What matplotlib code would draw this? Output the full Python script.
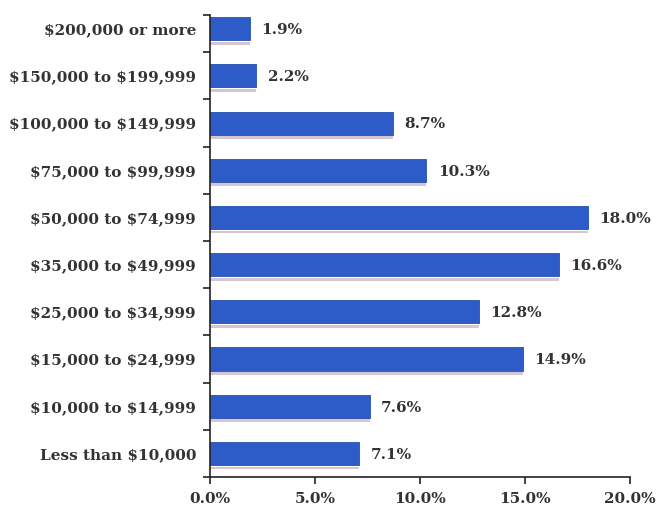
import matplotlib.pyplot as plt
from matplotlib.ticker import FixedLocator

# income brackets, bottom to top
categories = ['Less than $10,000', '$10,000 to $14,999', '$15,000 to $24,999',
              '$25,000 to $34,999', '$35,000 to $49,999', '$50,000 to $74,999',
              '$75,000 to $99,999', '$100,000 to $149,999', '$150,000 to $199,999',
              '$200,000 or more']
percent = [7.1, 7.6, 14.9, 12.8, 16.6, 18.0, 10.3, 8.7, 2.2, 1.9]
xticks = [0, 5, 10, 15, 20]

plt.rcParams['font.family'] = ['DejaVu Serif']
plt.rcParams['font.weight'] = 'bold'

fig = plt.figure(figsize=(6.59, 5.13), dpi=100)
ax = fig.add_axes([210 / 659, 1 - 477 / 513, 420 / 659, 462 / 513])

y = list(range(len(categories)))
# faint shadow line under each bar
ax.barh([v - 0.31 for v in y], percent, height=0.06, color='#d6c6d2', zorder=1)
ax.barh(y, percent, height=0.49, color='#2d5cc8', edgecolor='#2650b0',
        linewidth=0.6, zorder=2)

for v, p in zip(y, percent):
    ax.text(p + 0.55, v - 0.03, f'{p:.1f}%', va='center', ha='left',
            fontsize=11, color='#333333', fontweight='bold')

ax.set_xlim(0, 20)
ax.set_ylim(-0.5, 9.29)
ax.set_xticks(xticks)
ax.set_xticklabels([f'{t:.1f}%' for t in xticks], fontsize=11, color='#333333')
ax.set_yticks(y)
ax.set_yticklabels([c.replace('$', r'\$') for c in categories], fontsize=11,
                   color='#333333')
ax.tick_params(axis='y', length=0, pad=10)
ax.yaxis.set_minor_locator(FixedLocator([v - 0.5 for v in y] + [9.29]))
ax.tick_params(axis='y', which='minor', length=5, width=1.2, color='#222222')
ax.tick_params(axis='x', length=5, width=1.2, color='#222222', pad=6)

for s in ['top', 'right']:
    ax.spines[s].set_visible(False)
ax.spines['left'].set_linewidth(1.2)
ax.spines['bottom'].set_linewidth(1.2)
ax.spines['left'].set_color('#222222')
ax.spines['bottom'].set_color('#222222')

fig.savefig('out.png', dpi=100)
